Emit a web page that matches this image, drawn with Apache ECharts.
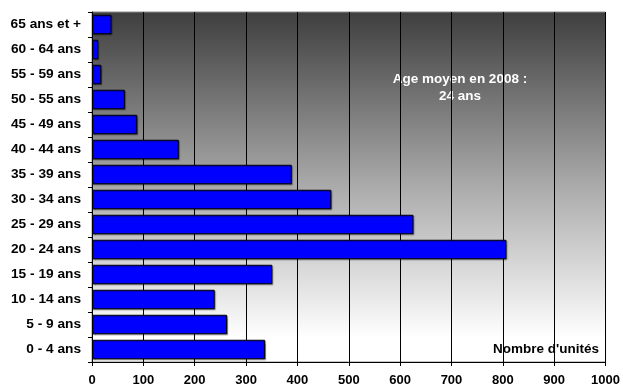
<!DOCTYPE html>
<html>
<head>
<meta charset="utf-8">
<script src="https://cdn.jsdelivr.net/npm/echarts@6/dist/echarts.min.js"></script>
<style>
  html, body { margin: 0; padding: 0; background: #ffffff; }
  #chart { width: 623px; height: 387px; }
</style>
</head>
<body>
<div id="chart"></div>
<script>
// Age groups, listed bottom to top
const ageGroups = [
  '0 - 4 ans', '5 - 9 ans', '10 - 14 ans', '15 - 19 ans', '20 - 24 ans',
  '25 - 29 ans', '30 - 34 ans', '35 - 39 ans', '40 - 44 ans', '45 - 49 ans',
  '50 - 55 ans', '55 - 59 ans', '60 - 64 ans', '65 ans et +'
];
// Number of units per age group
const unitCounts = [337, 263, 239, 351, 807, 626, 466, 389, 169, 88, 64, 18, 12, 38];

const xMin = 0;
const xMax = 1000;
const xStep = 100;

const fontStack = '"Liberation Sans", Arial, sans-serif';

const chart = echarts.init(document.getElementById('chart'), null, { renderer: 'canvas' });

chart.setOption({
  animation: false,
  backgroundColor: '#ffffff',
  grid: {
    left: 92,
    right: 17,
    top: 12,
    bottom: 25,
    show: true,
    borderColor: '#8c8c8c',
    borderWidth: 1,
    backgroundColor: new echarts.graphic.LinearGradient(0, 0, 0, 1, [
      { offset: 0, color: '#3e3e3e' },
      { offset: 0.5, color: '#ababab' },
      { offset: 0.93, color: '#ffffff' },
      { offset: 1, color: '#ffffff' }
    ])
  },
  xAxis: {
    type: 'value',
    min: xMin,
    max: xMax,
    interval: xStep,
    axisLine: { show: true, lineStyle: { color: '#000000', width: 1 } },
    axisTick: { show: true, length: 4, lineStyle: { color: '#000000' } },
    axisLabel: {
      margin: 12,
      fontFamily: fontStack,
      fontWeight: 'bold',
      fontSize: 13,
      color: '#000000',
      formatter: function (v) { return String(v); }
    },
    splitLine: { show: true, lineStyle: { color: '#000000', width: 1 } }
  },
  yAxis: {
    type: 'category',
    data: ageGroups,
    axisLine: { show: true, lineStyle: { color: '#000000', width: 1 } },
    axisTick: { show: true, length: 4, lineStyle: { color: '#000000' } },
    axisLabel: {
      margin: 11,
      fontFamily: fontStack,
      fontWeight: 'bold',
      fontSize: 13.7,
      color: '#000000'
    },
    splitLine: { show: false }
  },
  series: [{
    type: 'bar',
    data: unitCounts,
    barCategoryGap: '22%',
    itemStyle: {
      color: '#0000ff',
      borderColor: '#000000',
      borderWidth: 1,
      shadowColor: 'rgba(0,0,0,0.35)',
      shadowOffsetX: 1,
      shadowOffsetY: 1,
      shadowBlur: 1
    }
  }],
  graphic: [
    {
      type: 'text',
      x: 460,
      y: 71,
      style: {
        text: 'Age moyen en 2008 :\n24 ans',
        align: 'center',
        verticalAlign: 'top',
        fill: '#ffffff',
        font: 'bold 13.5px ' + fontStack,
        lineHeight: 17
      }
    },
    {
      type: 'text',
      x: 599,
      y: 349,
      style: {
        text: "Nombre d'unités",
        align: 'right',
        verticalAlign: 'middle',
        fill: '#000000',
        font: 'bold 13.5px ' + fontStack
      }
    }
  ]
});
</script>
</body>
</html>
